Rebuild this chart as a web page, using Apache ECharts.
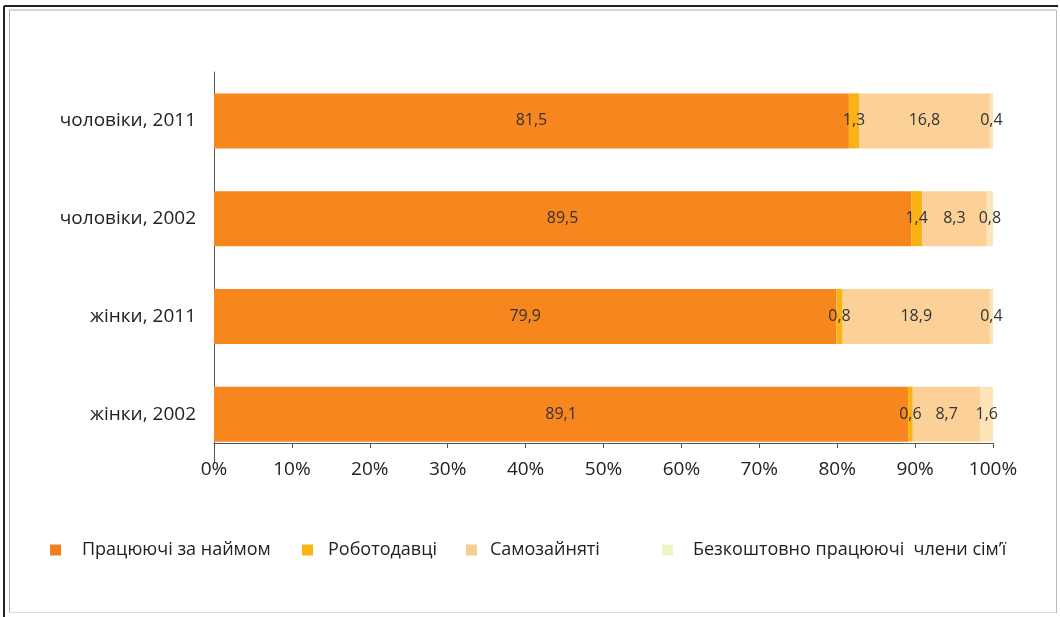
<!DOCTYPE html>
<html>
<head>
<meta charset="utf-8">
<script src="https://cdn.jsdelivr.net/npm/echarts@6/dist/echarts.min.js"></script>
<style>
   html, body { margin: 0; padding: 0; background: #fff; }
   #chart { width: 1060px; height: 617px; }
</style>
</head>
<body>
<div id="chart"></div>
<script>

// categories, top to bottom
const groups = ['чоловіки, 2011', 'чоловіки, 2002', 'жінки, 2011', 'жінки, 2002'];

// shares, %
const hired      = [81.5, 89.5, 79.9, 89.1];
const employers  = [1.3, 1.4, 0.8, 0.6];
const selfEmpl   = [16.8, 8.3, 18.9, 8.7];
const familyWork = [0.4, 0.8, 0.4, 1.6];

const seriesNames = ['Працюючі за наймом', 'Роботодавці', 'Самозайняті', 'Безкоштовно працюючі  члени сім\u2019ї'];
const seriesColors = ['#f7861f', '#fbb215', '#fbd197', '#fde3b8'];
const legendColors = ['#f0801e', '#fbb215', '#f4cf92', '#eef4c8'];

const FONT = '"Open Sans", sans-serif';

function fmt(v)
{
   return String(v).replace('.', ',');
}

const chart = echarts.init(document.getElementById('chart'));

const data = [hired, employers, selfEmpl, familyWork];
const series = [];
for (let i = 0; i < data.length; i++)
{
   series.push(
   {
      name: seriesNames[i],
      type: 'bar',
      stack: 'all',
      barWidth: 55,
      data: data[i],
      itemStyle: { color: seriesColors[i] },
      label:
      {
         show: true,
         position: 'inside',
         color: '#333',
         fontFamily: FONT,
         fontSize: 16,
         formatter: (p) => fmt(p.value)
      },
      emphasis: { disabled: true }
   });
}

// one legend per item so each sits where it does in the picture
const legendLeft = [45, 297, 461, 657];
const legendTextGap = [16, 10, 8, 15];
const legends = [];
for (let i = 0; i < seriesNames.length; i++)
{
   legends.push(
   {
      data: [{ name: seriesNames[i], itemStyle: { color: legendColors[i] } }],
      left: legendLeft[i],
      top: 536,
      itemWidth: 11,
      itemHeight: 11,
      icon: 'rect',
      itemGap: 0,
      selectedMode: false,
      textStyle: { fontFamily: FONT, fontSize: 18, color: '#222', padding: [0, 0, 0, legendTextGap[i]] }
   });
}

chart.setOption(
{
   animation: false,
   legend: legends,
   grid: { left: 214, right: 67, top: 72, bottom: 154, containLabel: false },
   xAxis:
   {
      type: 'value',
      min: 0,
      max: 100,
      interval: 10,
      offset: -20,
      splitLine: { show: false },
      axisLine: { show: true, lineStyle: { color: '#555', width: 1 } },
      axisTick: { show: true, length: 5, lineStyle: { color: '#555' } },
      axisLabel:
      {
         margin: 17,
         color: '#222',
         fontFamily: FONT,
         fontSize: 19,
         formatter: (v) => v + '%'
      }
   },
   yAxis:
   {
      type: 'category',
      data: groups,
      inverse: true,
      axisLine: { show: true, lineStyle: { color: '#555', width: 1 } },
      axisTick: { show: false },
      axisLabel: { margin: 18, color: '#222', fontFamily: FONT, fontSize: 19 }
   },
   series: series,
   graphic:
   [
      { type: 'line', shape: { x1: 4, y1: 6, x2: 1058, y2: 6 }, style: { stroke: '#222', lineWidth: 2 } },
      { type: 'line', shape: { x1: 4, y1: 6, x2: 4, y2: 617 }, style: { stroke: '#222', lineWidth: 2 } },
      { type: 'line', shape: { x1: 9, y1: 10, x2: 1056, y2: 10 }, style: { stroke: '#aaa', lineWidth: 1 } },
      { type: 'line', shape: { x1: 9.5, y1: 10, x2: 9.5, y2: 613 }, style: { stroke: '#aaa', lineWidth: 1 } },
      { type: 'line', shape: { x1: 1056.5, y1: 10, x2: 1056.5, y2: 613 }, style: { stroke: '#bbb', lineWidth: 1 } },
      { type: 'line', shape: { x1: 9, y1: 612.5, x2: 1056, y2: 612.5 }, style: { stroke: '#ddd', lineWidth: 1 } }
   ]
});

</script>
</body>
</html>
